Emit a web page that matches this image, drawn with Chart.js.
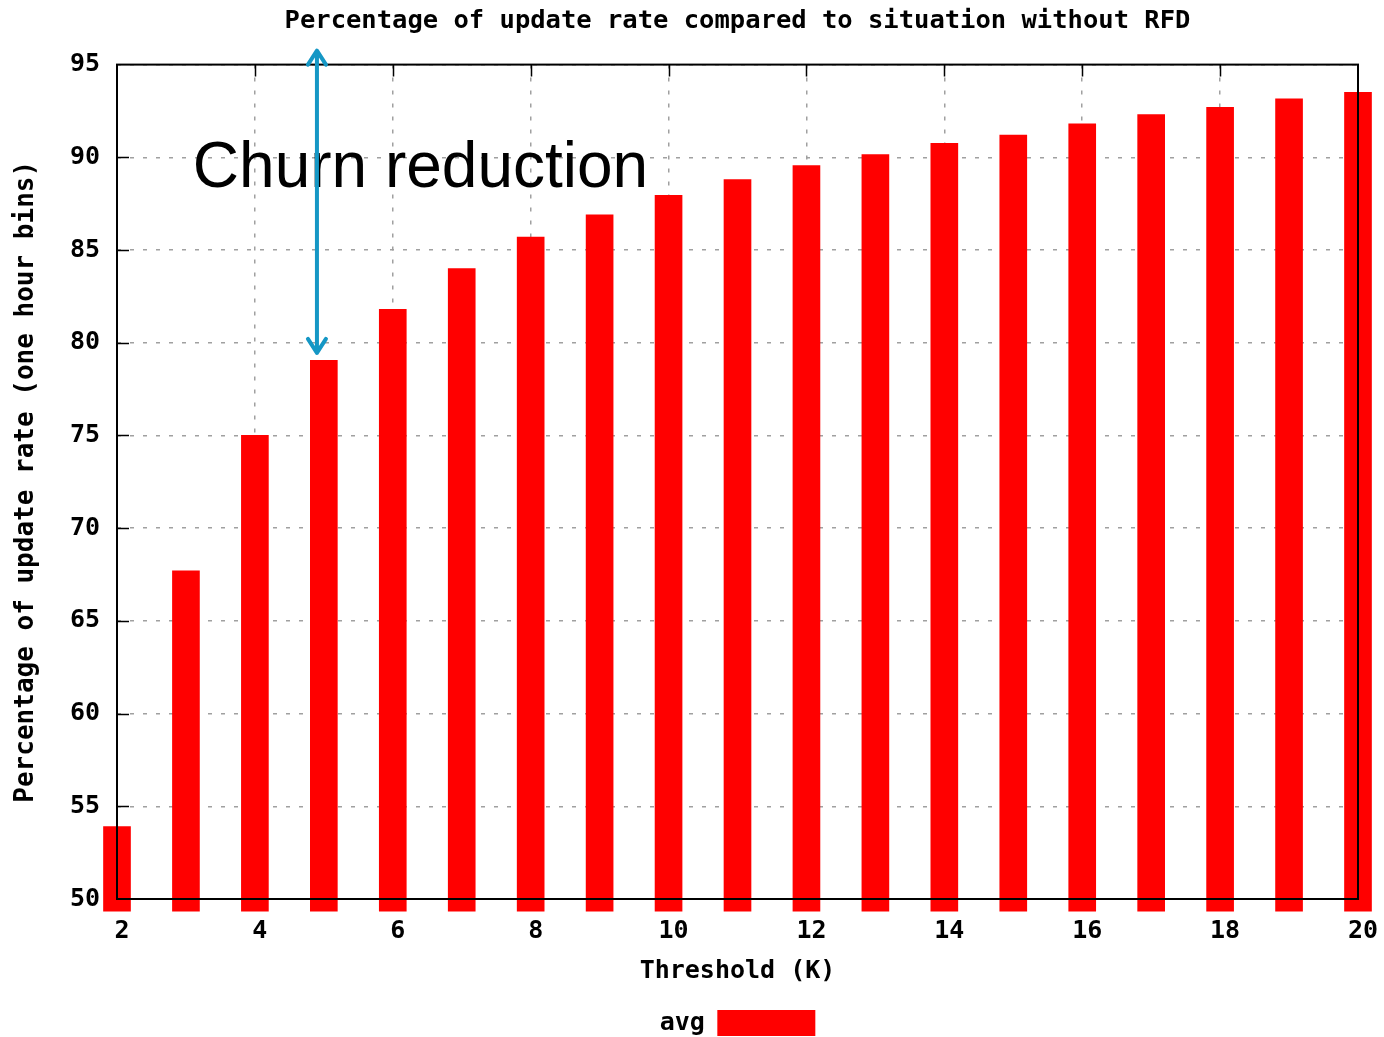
<!DOCTYPE html>
<html>
<head>
<meta charset="utf-8">
<title>RFD update rate</title>
<script src="https://cdn.jsdelivr.net/npm/chart.js@4.4.1/dist/chart.umd.min.js"></script>
<style>
    html, body { margin: 0; padding: 0; background: #ffffff; }
</style>
</head>
<body>
<canvas id="rfdcanvas" width="1384" height="1037"></canvas>
<script>
// threshold K -> avg percentage of update rate
let thresholds = [2, 3, 4, 5, 6, 7, 8, 9, 10, 11, 12, 13, 14, 15, 16, 17, 18, 19, 20];
let avgValues = [53.9, 67.7, 75.0, 79.05, 81.8, 84.0, 85.7, 86.9, 87.95, 88.8, 89.55, 90.15, 90.75, 91.2, 91.8, 92.3, 92.7, 93.15, 93.5];

let xTickValues = [2, 4, 6, 8, 10, 12, 14, 16, 18, 20];
let yTickValues = [50, 55, 60, 65, 70, 75, 80, 85, 90, 95];

let chartTitle = 'Percentage of update rate compared to situation without RFD';
let xTitle = 'Threshold (K)';
let yTitle = 'Percentage of update rate (one hour bins)';
let seriesName = 'avg';

// annotation: arrow + text, in data units
let noteText = 'Churn reduction';
let arrowX = 4.9;
let arrowTop = 95.75;
let arrowBottom = 79.45;
let noteX = 3.1;
let noteY = 88.42;

let monoFont = "'DejaVu Sans Mono', monospace";
Chart.defaults.font.family = monoFont;
Chart.defaults.font.weight = 'bold';
Chart.defaults.font.size = 25;
Chart.defaults.color = '#000000';

let dataPoints = thresholds.map(function(t, i) {
    return { x: t, y: avgValues[i] };
});

// gnuplot style frame, inner ticks and the note
let gnuplotFrame = {
    id: 'gnuplotFrame',
    beforeDatasetsDraw: function(chart) {
        let ctx = chart.ctx;
        let area = chart.chartArea;
        let xs = chart.scales.x;
        let ys = chart.scales.y;
        ctx.save();
        ctx.strokeStyle = '#000000';
        ctx.lineWidth = 1.5;
        ctx.beginPath();
        yTickValues.forEach(function(v) {
            if (v === yTickValues[0] || v === yTickValues[yTickValues.length - 1]) return;
            let py = Math.round(ys.getPixelForValue(v)) + 0.5;
            ctx.moveTo(area.left, py);
            ctx.lineTo(area.left + 12, py);
            ctx.moveTo(area.right - 12, py);
            ctx.lineTo(area.right, py);
        });
        xTickValues.forEach(function(v) {
            if (v === xTickValues[0] || v === xTickValues[xTickValues.length - 1]) return;
            let px = Math.round(xs.getPixelForValue(v)) + 0.5;
            ctx.moveTo(px, area.top);
            ctx.lineTo(px, area.top + 12);
            ctx.moveTo(px, area.bottom - 12);
            ctx.lineTo(px, area.bottom);
        });
        ctx.stroke();
        ctx.restore();
    },
    afterDatasetsDraw: function(chart) {
        let ctx = chart.ctx;
        let area = chart.chartArea;
        ctx.save();
        ctx.strokeStyle = '#000000';
        ctx.lineWidth = 2;
        ctx.strokeRect(area.left, area.top, area.right - area.left, area.bottom - area.top);
        ctx.restore();
    },
    afterDraw: function(chart) {
        let ctx = chart.ctx;
        let xs = chart.scales.x;
        let ys = chart.scales.y;
        ctx.save();
        ctx.font = "64px 'Liberation Sans', Arial, sans-serif";
        ctx.fillStyle = '#000000';
        ctx.textAlign = 'left';
        ctx.textBaseline = 'alphabetic';
        ctx.fillText(noteText, xs.getPixelForValue(noteX), ys.getPixelForValue(noteY));

        let ax = xs.getPixelForValue(arrowX);
        let top = ys.getPixelForValue(arrowTop);
        let bottom = ys.getPixelForValue(arrowBottom);
        ctx.strokeStyle = '#1597c5';
        ctx.lineWidth = 4;
        ctx.lineCap = 'round';
        ctx.lineJoin = 'round';
        ctx.beginPath();
        ctx.moveTo(ax, top);
        ctx.lineTo(ax, bottom);
        ctx.moveTo(ax - 9, top + 14);
        ctx.lineTo(ax, top);
        ctx.lineTo(ax + 9, top + 14);
        ctx.moveTo(ax - 9, bottom - 14);
        ctx.lineTo(ax, bottom);
        ctx.lineTo(ax + 9, bottom - 14);
        ctx.stroke();
        ctx.restore();
    }
};

let Canvas = document.getElementById('rfdcanvas').getContext('2d');
let barChart = new Chart(Canvas, {
    type: 'bar',
    data: {
        datasets: [{
            label: seriesName,
            data: dataPoints,
            backgroundColor: '#ff0000',
            borderWidth: 0,
            barThickness: 27,
            base: 49.35,
            clip: false
        }]
    },
    options: {
        responsive: false,
        animation: false,
        devicePixelRatio: 1,
        layout: { padding: { left: 0, right: 26, top: 0, bottom: -9 } },
        plugins: {
            title: {
                display: true,
                text: chartTitle,
                fullSize: false,
                color: '#000000',
                font: { size: 25.5, weight: 'bold' },
                padding: { top: 6, bottom: 28 }
            },
            legend: {
                position: 'bottom',
                fullSize: false,
                rtl: true,
                labels: {
                    boxWidth: 98,
                    boxHeight: 26,
                    padding: 2,
                    color: '#000000',
                    font: { size: 25, weight: 'bold' }
                }
            },
            tooltip: { enabled: false }
        },
        scales: {
            x: {
                type: 'linear',
                min: 2,
                max: 20,
                offset: false,
                afterBuildTicks: function(scale) {
                    scale.ticks = xTickValues.map(function(v) { return { value: v }; });
                },
                afterFit: function(scale) {
                    scale.height = 109;
                    scale.paddingLeft = 0;
                    scale.paddingRight = 0;
                },
                ticks: { padding: 17, labelOffset: 5, color: '#000000' },
                grid: {
                    offset: false,
                    drawTicks: false,
                    color: '#a0a0a0',
                    lineWidth: 1.5
                },
                border: { display: false, dash: [4, 9] },
                title: {
                    display: true,
                    text: xTitle,
                    color: '#000000',
                    font: { size: 25, weight: 'bold' },
                    padding: { top: 0, bottom: 22 }
                }
            },
            y: {
                min: 50,
                max: 95,
                afterBuildTicks: function(scale) {
                    scale.ticks = yTickValues.map(function(v) { return { value: v }; });
                },
                afterFit: function(scale) { scale.width = 117; },
                ticks: { padding: 17, color: '#000000' },
                grid: {
                    drawTicks: false,
                    color: '#a0a0a0',
                    lineWidth: 1.5
                },
                border: { display: false, dash: [4, 9] },
                title: {
                    display: true,
                    text: yTitle,
                    color: '#000000',
                    font: { size: 26, weight: 'bold' },
                    padding: { top: 11, bottom: 0 }
                }
            }
        }
    },
    plugins: [gnuplotFrame]
});
</script>
</body>
</html>
